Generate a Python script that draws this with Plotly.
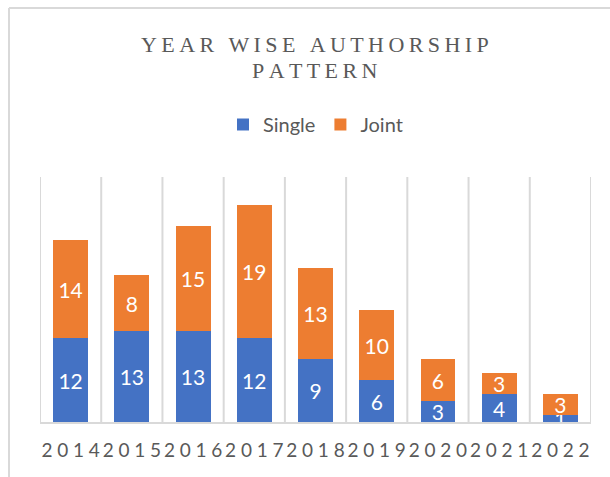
import plotly.graph_objects as go

years = ["2014", "2015", "2016", "2017", "2018", "2019", "2020", "2021", "2022"]
single = [12, 13, 13, 12, 9, 6, 3, 4, 1]
joint = [14, 8, 15, 19, 13, 10, 6, 3, 3]

title_lines = ["YEAR WISE AUTHORSHIP", "PATTERN"]
TS = "\u2009"
XS = "\u2005"


def spaced(s, sep=TS):
    return sep.join(s)


xpos = list(range(len(years)))
ticktext = [spaced(y, XS) for y in years]

BLUE = "#4472C4"
ORANGE = "#ED7D31"
GREY = "#595959"
GRID = "#D9D9D9"

PLOT_TOP, PLOT_BOTTOM = 177, 422
PH = PLOT_BOTTOM - PLOT_TOP


def py(px):
    return (PLOT_BOTTOM - px) / PH


fig = go.Figure()
for name, vals, col in (("Single", single, BLUE), ("Joint", joint, ORANGE)):
    fig.add_trace(go.Bar(
        x=xpos, y=vals, name=name, marker=dict(color=col, line=dict(width=0)),
        texttemplate="%{y}", textposition="inside", insidetextanchor="middle",
        constraintext="none", textangle=0,
        textfont=dict(family="Lato", size=21, color="white"),
    ))

# category boundary lines
for i in range(len(years) + 1):
    fig.add_shape(type="line", xref="x", yref="paper", x0=i - 0.5, x1=i - 0.5,
                  y0=0, y1=1, line=dict(color=GRID, width=2), layer="below")

# outer chart border (top and left edges visible)
bx = -31 / 551
fig.add_shape(type="line", xref="paper", yref="paper", x0=bx, x1=1.2,
              y0=py(8), y1=py(8), line=dict(color=GRID, width=2))
fig.add_shape(type="line", xref="paper", yref="paper", x0=bx, x1=bx,
              y0=-0.5, y1=py(8), line=dict(color=GRID, width=2))

# title lines
for txt, ypx in zip(title_lines, (44.5, 71)):
    fig.add_annotation(
        text=spaced(txt), xref="paper", yref="paper",
        x=(315 - 40) / 551, y=py(ypx), xanchor="center", yanchor="middle",
        showarrow=False,
        font=dict(family="Liberation Serif", size=22, color=GREY),
    )

fig.update_layout(
    width=610, height=477,
    barmode="stack", bargap=0.43,
    paper_bgcolor="white", plot_bgcolor="white",
    margin=dict(l=40, r=19, t=177, b=55),
    legend=dict(
        orientation="h", x=0.50, xanchor="center", y=py(124.5), yanchor="middle",
        font=dict(family="Lato", size=20, color=GREY),
        traceorder="normal",
    ),
    xaxis=dict(
        range=[-0.5, len(years) - 0.5], tickvals=xpos, ticktext=ticktext,
        showgrid=False, zeroline=False, showline=True, linecolor=GRID, linewidth=2,
        ticks="", ticklabelstandoff=10,
        tickfont=dict(family="Lato", size=19, color=GREY),
        fixedrange=True,
    ),
    yaxis=dict(range=[0, 35], visible=False, showgrid=False, zeroline=False, fixedrange=True),
    showlegend=True,
)

fig.write_html("out.html")
